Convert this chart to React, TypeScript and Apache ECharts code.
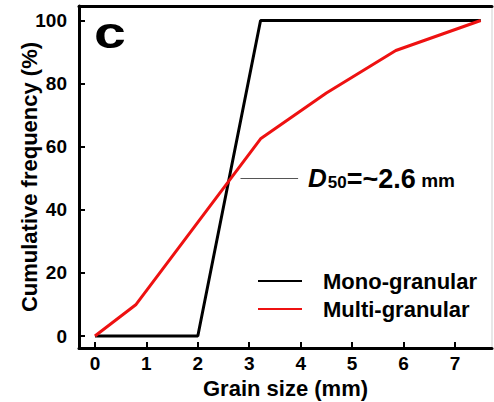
import React, { useEffect, useRef } from "react";
import * as echarts from "echarts";

const monoX = [0, 2, 3.22, 7.5];
const monoY = [0, 0, 100, 100];
const multiX = [0, 0.8, 3.22, 4.5, 5.85, 7.5];
const multiY = [0, 10, 62.5, 77, 90.5, 100];
const xTicks = [0, 1, 2, 3, 4, 5, 6, 7];
const yTicks = [0, 20, 40, 60, 80, 100];
const d50Line = [
  [2.83, 50],
  [3.95, 50],
];
const seriesNames = ["Mono-granular", "Multi-granular"];

const FONT = "'Liberation Sans', Arial, Helvetica, sans-serif";

export default function App() {
  const ref = useRef<HTMLDivElement>(null);
  useEffect(() => {
    if (!ref.current) return;
    const chart = echarts.init(ref.current, null, { renderer: "svg" });
    chart.setOption({
      animation: false,
      backgroundColor: "#fff",
      textStyle: { fontFamily: FONT },
      grid: {
        left: 79,
        right: 2,
        top: 6,
        bottom: 54,
        show: true,
        borderColor: "#cfcfcf",
        borderWidth: 1,
        containLabel: false,
        outerBoundsMode: "none",
      },
      legend: {
        orient: "vertical",
        left: 258,
        top: 270,
        padding: 0,
        icon: "rect",
        itemWidth: 44,
        itemHeight: 2,
        itemGap: 6,
        data: seriesNames,
        textStyle: { color: "#000", fontFamily: FONT, fontWeight: "bold", fontSize: 22, padding: [0, 0, 0, 16] },
      },
      xAxis: [
        {
          type: "value",
          min: -0.31,
          max: 7.72,
          name: "Grain size (mm)",
          nameLocation: "middle",
          nameGap: 28,
          nameTextStyle: { color: "#000", fontFamily: FONT, fontWeight: "bold", fontSize: 22 },
          axisLine: { onZero: false, lineStyle: { color: "#000", width: 3 } },
          axisTick: { show: true, inside: true, length: 6, lineStyle: { color: "#000", width: 2 }, customValues: xTicks },
          axisLabel: {
            show: true,
            customValues: xTicks,
            margin: 6,
            color: "#000",
            fontFamily: FONT,
            fontWeight: "bold",
            fontSize: 19,
          },
          splitLine: { show: false },
        },
        {
          type: "value",
          position: "top",
          min: -0.31,
          max: 7.72,
          axisLine: { onZero: false, lineStyle: { color: "#000", width: 3 } },
          axisTick: { show: false },
          axisLabel: { show: false },
          splitLine: { show: false },
        },
      ],
      yAxis: {
        type: "value",
        min: -3.8,
        max: 104.6,
        name: "Cumulative frequency (%)",
        nameLocation: "middle",
        nameRotate: 90,
        nameGap: 39,
        nameMoveOverlap: false,
        nameTextStyle: { color: "#000", fontFamily: FONT, fontWeight: "bold", fontSize: 22 },
        axisLine: { show: true, onZero: false, lineStyle: { color: "#000", width: 3 } },
        axisTick: { show: true, inside: true, length: 6, lineStyle: { color: "#000", width: 2 }, customValues: yTicks },
        axisLabel: {
          show: true,
          customValues: yTicks,
          margin: 12,
          color: "#000",
          fontFamily: FONT,
          fontWeight: "bold",
          fontSize: 19,
        },
        splitLine: { show: false },
      },
      graphic: [
        {
          type: "text",
          x: 94,
          y: 33,
          scaleX: 1.3,
          style: {
            text: "c",
            font: `bold 44px ${FONT}`,
            fill: "#000",
            verticalAlign: "middle",
            align: "left",
          },
        },
      ],
      series: [
        {
          name: seriesNames[0],
          type: "line",
          data: monoX.map((x, i) => [x, monoY[i]]),
          symbol: "none",
          lineStyle: { color: "#000", width: 3 },
          itemStyle: { color: "#000" },
        },
        {
          name: seriesNames[1],
          type: "line",
          data: multiX.map((x, i) => [x, multiY[i]]),
          symbol: "none",
          lineStyle: { color: "#ee1111", width: 3 },
          itemStyle: { color: "#ee1111" },
          markLine: {
            silent: true,
            symbol: ["none", "none"],
            lineStyle: { color: "#555", width: 1, type: "solid" },
            data: [[{ coord: d50Line[0] }, { coord: d50Line[1] }]],
            label: {
              show: true,
              position: "end",
              distance: 10,
              formatter: "{d|D}{s|50}{t|=~2.6}{m| mm}",
              rich: {
                d: { fontFamily: FONT, fontWeight: "bold", fontStyle: "italic", fontSize: 26, color: "#000", lineHeight: 26, verticalAlign: "top" },
                s: { fontFamily: FONT, fontWeight: "bold", fontSize: 17, color: "#000", lineHeight: 26, verticalAlign: "top", padding: [9, 0, 0, 1] },
                t: { fontFamily: FONT, fontWeight: "bold", fontSize: 27, color: "#000", lineHeight: 26, verticalAlign: "top" },
                m: { fontFamily: FONT, fontWeight: "bold", fontSize: 19, color: "#000", lineHeight: 26, verticalAlign: "top", padding: [6, 0, 0, 0] },
              },
            },
          },
        },
      ],
    });
    return () => chart.dispose();
  }, []);
  return <div ref={ref} style={{ position: "fixed", left: 0, top: 0, width: 494, height: 402 }} />;
}
